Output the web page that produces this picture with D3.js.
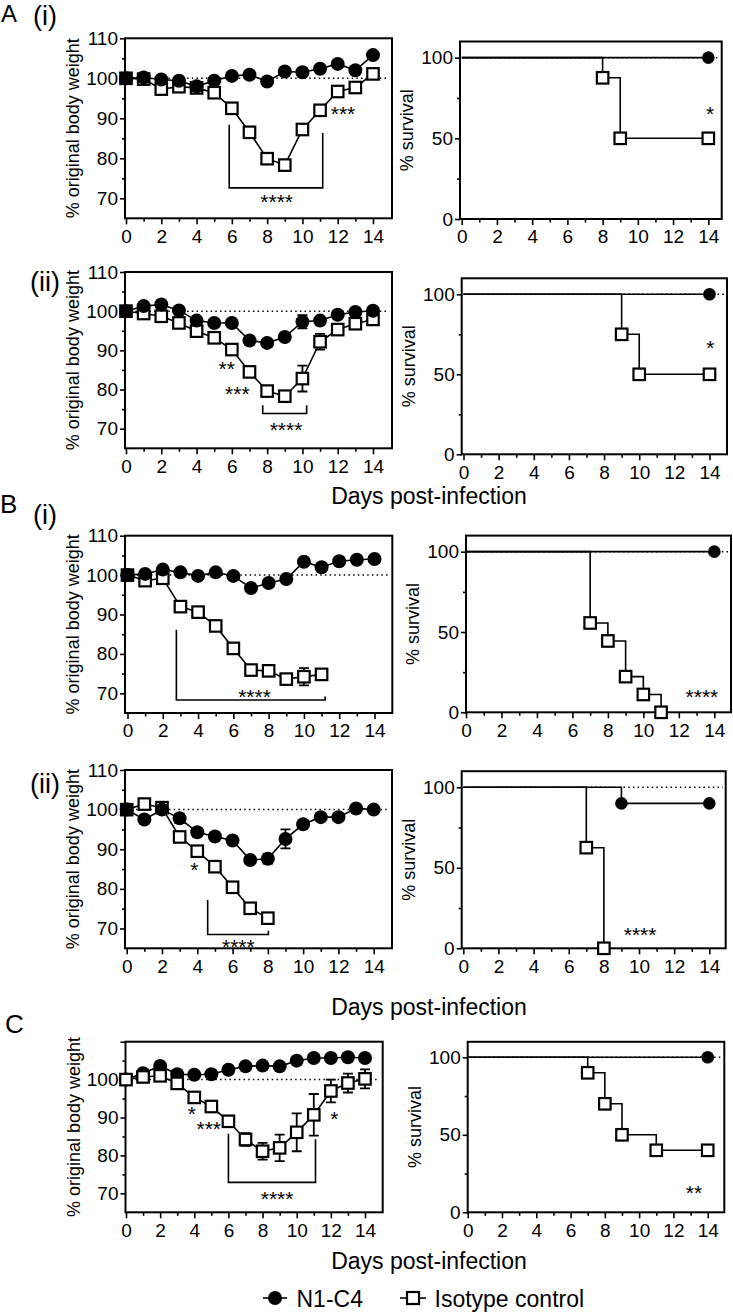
<!DOCTYPE html>
<html><head><meta charset="utf-8">
<script src="https://cdn.jsdelivr.net/npm/d3@7"></script>
<style>
body{margin:0;background:#fff}
svg{display:block}
</style>
</head><body>
<svg id="c" width="733" height="1313"></svg>
<script>
// ---------------- DATA ----------------
const days = [0,1,2,3,4,5,6,7,8,9,10,11,12,13,14];
const tickDays = [0,2,4,6,8,10,12,14];
const minorDays = [1,3,5,7,9,11,13];
const weightTicks = [70,80,90,100,110];
const weightMinor = [75,85,95,105];
const survTicks = [0,50,100];
const survMinor = [25,75];

// % original body weight (mean) and error (SEM), by day
const A1_N1C4 = [100,100.2,99.7,99.4,98.0,99.4,100.6,100.9,99.2,101.7,101.5,102.4,103.6,102.0,105.8];
const A1_Iso  = [100,99.8,97.3,97.9,97.6,96.4,92.5,86.5,79.9,78.3,87.2,92.0,96.7,97.7,101.1];

const A2_N1C4 = [100,101.3,101.7,100.2,97.6,97.0,97.0,92.5,91.9,93.4,97.3,97.6,99.1,99.8,100.1];
const A2_N1C4_err = [0,0,0,0,0,0,0,0,1.0,0.8,1.7,0,0,0,0];
const A2_Iso  = [100,99.4,98.7,97.0,94.9,93.2,90.2,84.5,79.6,78.3,82.8,92.2,95.3,96.8,97.9];
const A2_Iso_err = [0,0,0,0,0,0,0,0,0,0,3.3,2.0,0,0,0];

const B1_N1C4 = [100,100.3,101.4,100.7,99.8,100.7,99.8,96.7,98.0,99.0,103.4,102.0,103.5,103.9,104.1];
const B1_Iso  = [100,98.6,99.2,92.0,90.6,87.1,81.4,75.9,75.7,73.6,74.2,74.8];
const B1_Iso_err = [0,0,0,0,0,0,0,0,0,0,2.2,0];

const B2_N1C4 = [100,97.5,100.0,97.8,94.3,93.2,92.2,87.3,87.6,92.6,96.3,98.1,98.1,100.3,100.0];
const B2_N1C4_err = [0,0,0,1.2,0,0,0,0,1.2,2.4,0,0,0,0,0];
const B2_Iso  = [100,101.4,100.5,93.1,89.5,85.6,80.4,75.1,72.6];

const C_N1C4 = [100,101.7,103.6,101.4,101.3,101.4,102.6,103.5,103.7,103.5,105.0,105.7,105.7,105.9,105.7];
const C_Iso  = [100,100.7,101.0,99.0,95.3,92.9,89.0,84.2,81.1,82.0,86.1,90.7,97.0,99.1,100.2];
const C_Iso_err = [0,0,0,0,0,0,0,1.7,2.2,3.5,5.0,5.5,3.0,2.5,2.5];

// % survival (Kaplan-Meier steps): event days and survival after each
const A1_surv_N1C4_days = [0,14], A1_surv_N1C4 = [100,100];
const A1_surv_Iso_days  = [0,8,9,14], A1_surv_Iso = [100,87.5,50,50];
const A2_surv_N1C4_days = [0,14], A2_surv_N1C4 = [100,100];
const A2_surv_Iso_days  = [0,9,10,14], A2_surv_Iso = [100,75,50,50];
const B1_surv_N1C4_days = [0,14], B1_surv_N1C4 = [100,100];
const B1_surv_Iso_days  = [0,7,8,9,10,11], B1_surv_Iso = [100,55.6,44.4,22.2,11.1,0];
const B2_surv_N1C4_days = [0,9,14], B2_surv_N1C4 = [100,90,90];
const B2_surv_Iso_days  = [0,7,8], B2_surv_Iso = [100,62.5,0];
const C_surv_N1C4_days  = [0,14], C_surv_N1C4 = [100,100];
const C_surv_Iso_days   = [0,7,8,9,11,14], C_surv_Iso = [100,90,70,50,40,40];

// significance annotations (day, value in data units)
const A1_stars = [{t:"****",d:8.54,v:70.2},{t:"***",d:12.3,v:92.3}];
const A1_brackets = [{d1:5.85,d2:11.15,v1:88.4,v2:86.3,vb:72.6}];
const A2_stars = [{t:"**",d:5.71,v:86.4},{t:"***",d:6.31,v:80.0},{t:"****",d:9.07,v:70.9}];
const A2_brackets = [{d1:7.75,d2:10.24,v1:76.0,v2:76.0,vb:73.9}];
const B1_stars = [{t:"****",d:7.2,v:70.3}];
const B1_brackets = [{d1:2.77,d2:11.2,v1:86.1,v2:69.2,vb:68.3}];
const B2_stars = [{t:"*",d:3.83,v:85.9},{t:"****",d:6.33,v:66.4}];
const B2_brackets = [{d1:4.59,d2:8.03,v1:77.2,v2:69.4,vb:68.5}];
const C_stars = [{t:"*",d:3.85,v:92.2},{t:"***",d:4.85,v:88.2},{t:"****",d:8.85,v:69.8},{t:"*",d:12.2,v:90.7}];
const C_brackets = [{d1:6.0,d2:11.1,v1:85.7,v2:84.3,vb:72.9}];
const A1_survStars = [{t:"*",d:14.1,v:68}];
const A2_survStars = [{t:"*",d:14.05,v:69.4}];
const B1_survStars = [{t:"****",d:13.3,v:12.5}];
const B2_survStars = [{t:"****",d:10.06,v:10.8}];
const C_survStars  = [{t:"**",d:13.2,v:15.1}];

const seriesNames = ["N1-C4","Isotype control"];
const xTitle = "Days post-infection";
const yTitleWeight = "% original body weight";
const yTitleSurv = "% survival";

// ---------------- LAYOUT ----------------
const FONT = 'Arial, "Liberation Sans", sans-serif';
const TICKFS = 19;
const svg = d3.select("#c");

const L = {
  A1L:{left:125,right:392,x0:126,x14:373,top:38.3,bottom:218.3},
  A1R:{left:460,right:721.7,x0:461.7,x14:708.3,top:41.5,bottom:219},
  A2L:{left:125,right:392,x0:126,x14:373,top:272,bottom:448.3},
  A2R:{left:461.7,right:727,x0:463.5,x14:709.5,top:278.3,bottom:454.3},
  B1L:{left:125,right:392.3,x0:127.5,x14:374.5,top:535.7,bottom:713},
  B1R:{left:466,right:731,x0:466,x14:714.3,top:535.6,bottom:712.3},
  B2L:{left:125,right:392,x0:126.7,x14:373.7,top:770,bottom:948.3},
  B2R:{left:461.7,right:725.7,x0:463.3,x14:709.3,top:771.2,bottom:948.3},
  CL:{left:125.5,right:382.7,x0:126,x14:365,top:1041.7,bottom:1212.3},
  CR:{left:467.7,right:724.3,x0:467.7,x14:707.7,top:1041.8,bottom:1212.3}
};

function txt(x,y,s,size,anchor){
  return svg.append("text").attr("x",x).attr("y",y).text(s)
    .attr("font-family",FONT).attr("font-size",size).attr("fill","#000")
    .attr("text-anchor",anchor||"start");
}

function styleAxis(sel){
  sel.attr("font-family",FONT).attr("font-size",TICKFS);
  sel.select(".domain").remove();
  sel.selectAll("line").attr("stroke","#000").attr("stroke-width",1.6);
  sel.selectAll("text").attr("fill","#000");
}

function axes(g, x, y, P, yT, yM, yLabelSet){
  const xa = g.append("g").attr("transform",`translate(0,${P.bottom})`)
    .call(d3.axisBottom(x).tickValues(tickDays).tickSize(6).tickPadding(5));
  styleAxis(xa);
  const xm = g.append("g").attr("transform",`translate(0,${P.bottom})`)
    .call(d3.axisBottom(x).tickValues(minorDays).tickSize(3.5).tickFormat(""));
  styleAxis(xm);
  const ya = g.append("g").attr("transform",`translate(${P.left},0)`)
    .call(d3.axisLeft(y).tickValues(yT).tickSize(5).tickPadding(2)
      .tickFormat(v => (yLabelSet && !yLabelSet.includes(v)) ? "" : d3.format("d")(v)));
  styleAxis(ya);
  const ym = g.append("g").attr("transform",`translate(${P.left},0)`)
    .call(d3.axisLeft(y).tickValues(yM).tickSize(3).tickFormat(""));
  styleAxis(ym);
  g.append("rect").attr("x",P.left).attr("y",P.top)
    .attr("width",P.right-P.left).attr("height",P.bottom-P.top)
    .attr("fill","none").attr("stroke","#000").attr("stroke-width",2);
}

function stars(g, x, y, list){
  list.forEach(s=>{
    g.append("text").attr("x",x(s.d)).attr("y",y(s.v)+11.5).text(s.t)
      .attr("font-family",FONT).attr("font-size",21).attr("fill","#000")
      .attr("text-anchor","middle");
  });
}

function brackets(g, x, y, list){
  list.forEach(b=>{
    const p = d3.path();
    p.moveTo(x(b.d1),y(b.v1)); p.lineTo(x(b.d1),y(b.vb));
    p.lineTo(x(b.d2),y(b.vb)); p.lineTo(x(b.d2),y(b.v2));
    g.append("path").attr("d",p.toString()).attr("fill","none")
      .attr("stroke","#000").attr("stroke-width",1.6);
  });
}

function drawSeries(g, x, y, vals, errs, kind, r){
  const pts = vals.map((v,i)=>({d:days[i],v:v,e:errs?errs[i]:0}));
  g.append("path").datum(pts)
    .attr("d",d3.line().x(p=>x(p.d)).y(p=>y(p.v)))
    .attr("fill","none").attr("stroke","#000").attr("stroke-width",1.6);
  pts.filter(p=>p.e>0).forEach(p=>{
    const cx=x(p.d), y1=y(p.v-p.e), y2=y(p.v+p.e);
    g.append("path").attr("d",`M${cx},${y1}V${y2}M${cx-5},${y1}H${cx+5}M${cx-5},${y2}H${cx+5}`)
      .attr("stroke","#000").attr("stroke-width",1.8).attr("fill","none");
  });
  if(kind==="circle"){
    g.selectAll(null).data(pts).enter().append("circle")
      .attr("cx",p=>x(p.d)).attr("cy",p=>y(p.v)).attr("r",r).attr("fill","#000");
  } else {
    const s=r*1.55;
    g.selectAll(null).data(pts).enter().append("rect")
      .attr("x",p=>x(p.d)-s/2).attr("y",p=>y(p.v)-s/2).attr("width",s).attr("height",s)
      .attr("fill","#fff").attr("stroke","#000").attr("stroke-width",2.2);
  }
}

function weightPanel(P, n1, n1e, iso, isoe, st, br, squaresOnTop, labelSet){
  const g = svg.append("g");
  const x = d3.scaleLinear().domain([0,14]).range([P.x0,P.x14]);
  const y = d3.scaleLinear().domain([65,110]).range([P.bottom,P.top]);
  g.append("line").attr("x1",x(0)).attr("x2",P.right-3).attr("y1",y(100)).attr("y2",y(100))
    .attr("stroke","#000").attr("stroke-width",1.5).attr("stroke-dasharray","1.5,3.2");
  axes(g,x,y,P,weightTicks,weightMinor,labelSet);
  brackets(g,x,y,br);
  stars(g,x,y,st);
  if(squaresOnTop){
    drawSeries(g,x,y,n1,n1e,"circle",7);
    drawSeries(g,x,y,iso,isoe,"square",7.4);
  } else {
    drawSeries(g,x,y,iso,isoe,"square",7.4);
    drawSeries(g,x,y,n1,n1e,"circle",7);
  }
  g.append("text").attr("transform",`translate(${P.left-52},${(P.top+P.bottom)/2}) rotate(-90)`)
    .attr("dy","0.35em").attr("text-anchor","middle").text(yTitleWeight)
    .attr("font-family",FONT).attr("font-size",18).attr("fill","#000");
}

function survPanel(P, nd, nv, id, iv, st){
  const g = svg.append("g");
  const x = d3.scaleLinear().domain([0,14]).range([P.x0,P.x14]);
  const y = d3.scaleLinear().domain([0,110]).range([P.bottom,P.top]);
  g.append("line").attr("x1",P.left+2).attr("x2",P.right-3).attr("y1",y(100)).attr("y2",y(100))
    .attr("stroke","#000").attr("stroke-width",1.5).attr("stroke-dasharray","1.5,3.2");
  axes(g,x,y,P,survTicks,survMinor,null);
  const line = d3.line().curve(d3.curveStepAfter).x(p=>x(p.d)).y(p=>y(p.v));
  const iso = id.map((d,i)=>({d:d,v:iv[i]}));
  const n1 = nd.map((d,i)=>({d:d,v:nv[i]}));
  g.append("path").datum(iso).attr("d",line).attr("fill","none").attr("stroke","#000").attr("stroke-width",1.6);
  g.append("path").datum(n1).attr("d",line).attr("fill","none").attr("stroke","#000").attr("stroke-width",1.6);
  const s=11.5;
  g.selectAll(null).data(iso.slice(1)).enter().append("rect")
    .attr("x",p=>x(p.d)-s/2).attr("y",p=>y(p.v)-s/2).attr("width",s).attr("height",s)
    .attr("fill","#fff").attr("stroke","#000").attr("stroke-width",2.2);
  g.selectAll(null).data(n1.slice(1)).enter().append("circle")
    .attr("cx",p=>x(p.d)).attr("cy",p=>y(p.v)).attr("r",6.3).attr("fill","#000");
  stars(g,x,y,st);
  g.append("text").attr("transform",`translate(${P.left-53},${(P.top+P.bottom)/2}) rotate(-90)`)
    .attr("dy","0.35em").attr("text-anchor","middle").text(yTitleSurv)
    .attr("font-family",FONT).attr("font-size",18).attr("fill","#000");
}

weightPanel(L.A1L, A1_N1C4, null, A1_Iso, null, A1_stars, A1_brackets, false, null);
survPanel(L.A1R, A1_surv_N1C4_days, A1_surv_N1C4, A1_surv_Iso_days, A1_surv_Iso, A1_survStars);
weightPanel(L.A2L, A2_N1C4, A2_N1C4_err, A2_Iso, A2_Iso_err, A2_stars, A2_brackets, false, null);
survPanel(L.A2R, A2_surv_N1C4_days, A2_surv_N1C4, A2_surv_Iso_days, A2_surv_Iso, A2_survStars);
weightPanel(L.B1L, B1_N1C4, null, B1_Iso, B1_Iso_err, B1_stars, B1_brackets, false, null);
survPanel(L.B1R, B1_surv_N1C4_days, B1_surv_N1C4, B1_surv_Iso_days, B1_surv_Iso, B1_survStars);
weightPanel(L.B2L, B2_N1C4, B2_N1C4_err, B2_Iso, null, B2_stars, B2_brackets, false, null);
survPanel(L.B2R, B2_surv_N1C4_days, B2_surv_N1C4, B2_surv_Iso_days, B2_surv_Iso, B2_survStars);
weightPanel(L.CL, C_N1C4, null, C_Iso, C_Iso_err, C_stars, C_brackets, true, [70,80,90,100]);
survPanel(L.CR, C_surv_N1C4_days, C_surv_N1C4, C_surv_Iso_days, C_surv_Iso, C_survStars);

// panel letters
txt(1,22,"A",24); txt(33,25,"(i)",27);
txt(30,291,"(ii)",27);
txt(0,513,"B",26); txt(33,524,"(i)",27);
txt(30,792.5,"(ii)",27);
txt(5,1033,"C",26);

// x titles
txt(429,504,xTitle,23,"middle");
txt(429,1015,xTitle,23,"middle");
txt(429,1269,xTitle,23,"middle");

// legend
const lg = svg.append("g");
lg.append("line").attr("x1",263).attr("x2",287).attr("y1",1298).attr("y2",1298).attr("stroke","#000").attr("stroke-width",1.6);
lg.append("circle").attr("cx",275).attr("cy",1298).attr("r",7).attr("fill","#000");
txt(296.5,1306.5,seriesNames[0],23);
lg.append("line").attr("x1",400).attr("x2",426).attr("y1",1298).attr("y2",1298).attr("stroke","#000").attr("stroke-width",1.6);
lg.append("rect").attr("x",407).attr("y",1292).attr("width",12).attr("height",12).attr("fill","#fff").attr("stroke","#000").attr("stroke-width",2.2);
txt(434.5,1306.5,seriesNames[1],23);
</script>
</body></html>
